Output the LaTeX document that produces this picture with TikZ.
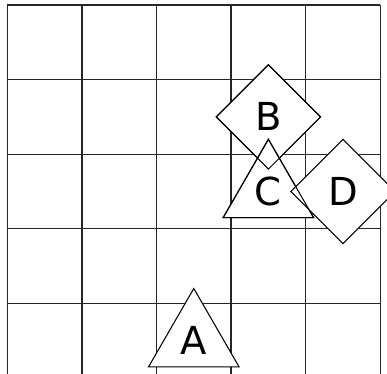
\documentclass[tikz,border=0pt]{standalone}
\usepackage{fontspec}
\setmainfont{DejaVu Sans}
\usetikzlibrary{shapes.geometric}

\tikzset{
  gridline/.style={line width=0.5pt, black!85},
  shapebox/.style={draw, line width=0.4pt, fill=white, inner sep=0pt, outer sep=0pt,
    minimum size=1.4cm, font=\fontsize{14.7}{16}\selectfont},
  tri/.style={shapebox, regular polygon, regular polygon sides=3},
  dia/.style={shapebox, diamond, aspect=1}
}

\begin{document}
\begin{tikzpicture}
  \clip (-0.098,-4.946) rectangle (5.09,0.067);
  \foreach \x in {0,...,5}
    \draw[gridline] (\x,0) -- (\x,-5);
  \foreach \y in {0,...,4}
    \draw[gridline] (0,-\y) -- (5,-\y);

  \node[tri] (A) at (2.5,-4.5) {A};
  \node[dia] (B) at (3.5,-1.5) {B};
  \node[tri] (C) at (3.5,-2.5) {C};
  \node[dia] (D) at (4.5,-2.5) {D};
  % outlines again, so the edges under the overlaps still show
  \draw[line width=0.4pt] (B.north) -- (B.east) -- (B.south) -- (B.west) -- cycle;
  \draw[line width=0.4pt] (C.corner 1) -- (C.corner 2) -- (C.corner 3) -- cycle;
\end{tikzpicture}
\end{document}
